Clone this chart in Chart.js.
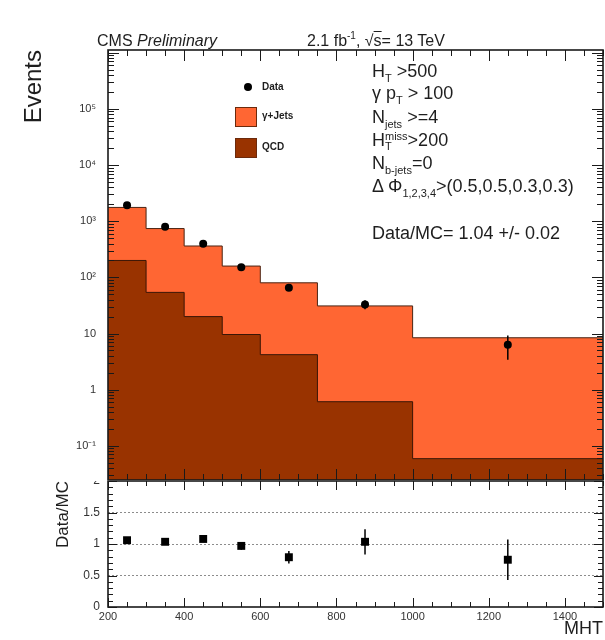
<!DOCTYPE html>
<html>
<head>
<meta charset="utf-8">
<title>MHT distribution, gamma+jets control region</title>
<script src="https://cdn.jsdelivr.net/npm/chart.js@4.4.1/dist/chart.umd.min.js"></script>
<style>
  body { margin: 0; background: #fff; font-family: "Liberation Sans", Arial, sans-serif; color: #1e1e1e; }
  #wrap { position: relative; width: 605px; height: 640px; overflow: hidden; }
  canvas { position: absolute; left: 0; }
  #mainChart { top: 0; }
  #ratioChart { top: 481px; }
  .t { position: absolute; white-space: nowrap; line-height: 1; }
  .lab { font-size: 18px; }
  .s { font-size: 11px; position: relative; top: 5px; }
  .u { font-size: 10px; position: relative; top: -7px; }
  .ss { display: inline-block; font-size: 11px; line-height: 10px; vertical-align: -4px; }
  .ss span { display: block; }
  .leg { font-size: 10px; font-weight: bold; }
  .box { position: absolute; width: 22px; height: 20px; box-sizing: border-box; border: 1px solid #6b2a0c; }
  .dot { position: absolute; width: 8px; height: 8px; border-radius: 50%; background: #000; }
</style>
</head>
<body>
<div id="wrap">
  <canvas id="mainChart" width="605" height="481"></canvas>
  <canvas id="ratioChart" width="605" height="159"></canvas>

  <div class="t" style="left:97px;top:33px;font-size:16px">CMS <i>Preliminary</i></div>
  <div class="t" style="left:307px;top:33px;font-size:16px">2.1 fb<span class="u">-1</span>, √<span style="text-decoration:overline">s</span>= 13 TeV</div>

  <div class="dot" style="left:244px;top:83px"></div>
  <div class="t leg" style="left:262px;top:82px">Data</div>
  <div class="box" style="left:235px;top:107px;background:#ff6633"></div>
  <div class="t leg" style="left:262px;top:111px">γ+Jets</div>
  <div class="box" style="left:235px;top:138px;background:#993300"></div>
  <div class="t leg" style="left:262px;top:142px">QCD</div>

  <div class="t lab" style="left:372px;top:62px">H<span class="s">T</span> &gt;500</div>
  <div class="t lab" style="left:372px;top:84px">γ p<span class="s">T</span> &gt; 100</div>
  <div class="t lab" style="left:372px;top:108px">N<span class="s">jets</span> &gt;=4</div>
  <div class="t lab" style="left:372px;top:131px">H<span class="ss"><span>miss</span><span>T</span></span>&gt;200</div>
  <div class="t lab" style="left:372px;top:154px">N<span class="s">b-jets</span>=0</div>
  <div class="t lab" style="left:372px;top:177px">Δ Φ<span class="s">1,2,3,4</span>&gt;(0.5,0.5,0.3,0.3)</div>
  <div class="t lab" style="left:372px;top:224px">Data/MC= 1.04 +/- 0.02</div>
</div>

<script>
// MHT binning
const binEdges = [200, 300, 400, 500, 600, 750, 1000, 1500];
const binCenters = [250, 350, 450, 550, 675, 875, 1250];

// top of the stack (gamma+jets drawn on top of QCD)
const stackTop = [1760, 740, 362, 159, 80, 31, 8.4];
const qcdEvents = [200, 54, 20, 9.6, 4.2, 0.61, 0.059];
const dataEvents = [1930, 795, 398, 152, 65, 33, 6.3];
const dataErrors = [44, 28, 20, 12, 8, 6, 2.9];

const ratioValues = [1.06, 1.035, 1.08, 0.97, 0.79, 1.035, 0.75];
const ratioErrors = [0.03, 0.04, 0.05, 0.06, 0.1, 0.2, 0.32];

const eventTicks = [0.1, 1, 10, 100, 1000, 10000, 100000];
const eventTickLabels = ["10⁻¹", "1", "10", "10²", "10³", "10⁴", "10⁵"];
const ratioTicks = [0, 0.5, 1, 1.5, 2];
const mhtTicks = [200, 400, 600, 800, 1000, 1200, 1400];

const gjColor = "#ff6633";
const qcdColor = "#993300";

Chart.defaults.font.family = '"Liberation Sans", Arial, sans-serif';
Chart.defaults.color = "#333";

function stepPoints(values) {
  const pts = values.map((v, i) => ({ x: binEdges[i], y: v }));
  pts.push({ x: binEdges[binEdges.length - 1], y: values[values.length - 1] });
  return pts;
}

function range(from, to, step) {
  const out = [];
  for (let v = from; v <= to + 1e-9; v += step) out.push(+v.toFixed(4));
  return out;
}

function logMinor(lo, hi) {
  const out = [];
  for (let e = -2; e <= 6; e++) {
    for (let m = 2; m <= 9; m++) {
      const v = m * Math.pow(10, e);
      if (v > lo && v < hi) out.push(v);
    }
  }
  return out;
}

// keep the plot frame where we put it, labels may stick out
function noPadding(s) {
  s.paddingTop = s.paddingBottom = s.paddingLeft = s.paddingRight = 0;
  s.getPadding = () => ({ top: 0, bottom: 0, left: 0, right: 0 });
}

// ROOT-like frame with ticks pointing inwards on all four sides
const rootAxes = {
  id: "rootAxes",
  afterDatasetsDraw(chart, args, opts) {
    const { ctx, chartArea: a } = chart;
    const sx = chart.scales.x, sy = chart.scales.y;
    ctx.save();
    ctx.strokeStyle = "#1a1a1a";
    ctx.lineWidth = 1;
    ctx.beginPath();
    const tickX = (v, len) => {
      const px = Math.round(sx.getPixelForValue(v)) + 0.5;
      ctx.moveTo(px, a.bottom); ctx.lineTo(px, a.bottom - len);
      ctx.moveTo(px, a.top); ctx.lineTo(px, a.top + len);
    };
    const tickY = (v, len) => {
      const py = Math.round(sy.getPixelForValue(v)) + 0.5;
      ctx.moveTo(a.left, py); ctx.lineTo(a.left + len, py);
      ctx.moveTo(a.right, py); ctx.lineTo(a.right - len, py);
    };
    opts.xMinor.forEach(v => tickX(v, opts.minorLen));
    opts.xMajor.forEach(v => tickX(v, opts.majorLen));
    opts.yMinor.forEach(v => tickY(v, opts.minorLen));
    opts.yMajor.forEach(v => tickY(v, opts.majorLen));
    ctx.stroke();
    ctx.lineWidth = 1.6;
    ctx.strokeRect(a.left, a.top, a.right - a.left, a.bottom - a.top);
    ctx.restore();
  }
};

const errorBars = {
  id: "errorBars",
  afterDatasetsDraw(chart, args, opts) {
    const meta = chart.getDatasetMeta(opts.dataset);
    const values = chart.data.datasets[opts.dataset].data;
    const sy = chart.scales.y;
    const ctx = chart.ctx;
    ctx.save();
    ctx.strokeStyle = "#000";
    ctx.lineWidth = 1.5;
    ctx.beginPath();
    meta.data.forEach((pt, i) => {
      const v = values[i].y;
      const lo = Math.max(v - opts.errors[i], sy.min);
      ctx.moveTo(pt.x, sy.getPixelForValue(v + opts.errors[i]));
      ctx.lineTo(pt.x, sy.getPixelForValue(lo));
    });
    ctx.stroke();
    ctx.restore();
  }
};

const yMin = 0.0246, yMax = 1.12e6;

new Chart(document.getElementById("mainChart"), {
  type: "line",
  data: {
    datasets: [
      {
        label: "Data",
        data: binCenters.map((x, i) => ({ x, y: dataEvents[i] })),
        showLine: false,
        pointRadius: 4,
        pointBackgroundColor: "#000",
        pointBorderWidth: 0,
        order: 0
      },
      {
        label: "QCD",
        data: stepPoints(qcdEvents),
        stepped: "before",
        fill: "start",
        backgroundColor: qcdColor,
        borderColor: "#3a1606",
        borderWidth: 1,
        pointRadius: 0,
        order: 1
      },
      {
        label: "γ+Jets",
        data: stepPoints(stackTop),
        stepped: "before",
        fill: "start",
        backgroundColor: gjColor,
        borderColor: "#4a2413",
        borderWidth: 1,
        pointRadius: 0,
        order: 2
      }
    ]
  },
  options: {
    responsive: false,
    animation: false,
    devicePixelRatio: 1,
    layout: { autoPadding: false, padding: { top: 50, right: 2, bottom: 1, left: 0 } },
    plugins: {
      legend: { display: false },
      tooltip: { enabled: false },
      rootAxes: {
        xMajor: range(200, 1400, 200),
        xMinor: range(200, 1500, 50),
        yMajor: eventTicks.concat([1000000]).filter(v => v > yMin && v < yMax),
        yMinor: logMinor(yMin, yMax),
        majorLen: 11,
        minorLen: 6
      },
      errorBars: { dataset: 0, errors: dataErrors }
    },
    scales: {
      x: {
        type: "linear",
        min: 200,
        max: 1500,
        grid: { display: false, drawTicks: false },
        border: { display: false },
        ticks: { display: false },
        afterFit: s => { s.height = 0; noPadding(s); }
      },
      y: {
        type: "logarithmic",
        min: yMin,
        max: yMax,
        grid: { display: false, drawTicks: false },
        border: { display: false },
        afterBuildTicks: s => { s.ticks = eventTicks.map(v => ({ value: v })); },
        ticks: {
          autoSkip: false,
          padding: 12,
          color: "#333",
          font: { size: 11 },
          callback: (v, i) => eventTickLabels[i]
        },
        title: {
          display: true,
          text: "Events",
          align: "end",
          color: "#1e1e1e",
          font: { size: 24 },
          padding: { top: 20, bottom: 0 }
        },
        afterFit: s => { s.width = 108; noPadding(s); }
      }
    }
  },
  plugins: [rootAxes, errorBars]
});

new Chart(document.getElementById("ratioChart"), {
  type: "line",
  data: {
    datasets: [
      {
        label: "Data/MC",
        data: binCenters.map((x, i) => ({ x, y: ratioValues[i] })),
        showLine: false,
        pointStyle: "rect",
        pointRadius: 5.6,
        pointBackgroundColor: "#000",
        pointBorderWidth: 0
      }
    ]
  },
  options: {
    responsive: false,
    animation: false,
    devicePixelRatio: 1,
    layout: { autoPadding: false, padding: { top: 0, right: 2, bottom: 0, left: 0 } },
    plugins: {
      legend: { display: false },
      tooltip: { enabled: false },
      rootAxes: {
        xMajor: range(200, 1400, 200),
        xMinor: range(200, 1500, 50),
        yMajor: ratioTicks,
        yMinor: range(0, 2, 0.1),
        majorLen: 9,
        minorLen: 5
      },
      errorBars: { dataset: 0, errors: ratioErrors }
    },
    scales: {
      x: {
        type: "linear",
        min: 200,
        max: 1500,
        grid: { display: false, drawTicks: false },
        border: { display: false },
        afterBuildTicks: s => { s.ticks = mhtTicks.map(v => ({ value: v })); },
        ticks: {
          autoSkip: false,
          maxRotation: 0,
          padding: 3,
          color: "#333",
          font: { size: 11 },
          callback: v => String(v)
        },
        title: {
          display: true,
          text: "MHT",
          align: "end",
          color: "#1e1e1e",
          font: { size: 18 },
          padding: { top: 0, bottom: 0 }
        },
        afterFit: s => { s.height = 33; noPadding(s); }
      },
      y: {
        type: "linear",
        min: 0,
        max: 2,
        afterBuildTicks: s => { s.ticks = ratioTicks.map(v => ({ value: v })); },
        grid: {
          drawTicks: false,
          lineWidth: 1,
          color: c => (c.tick && c.tick.value > 0 && c.tick.value < 2) ? "#8c8c8c" : "rgba(0,0,0,0)"
        },
        border: { display: false, dash: [2, 2] },
        ticks: { autoSkip: false, padding: 8, color: "#333", font: { size: 12 }, callback: v => String(v) },
        title: {
          display: true,
          text: "Data/MC",
          align: "end",
          color: "#1e1e1e",
          font: { size: 17 },
          padding: { top: 53, bottom: 0 }
        },
        afterFit: s => { s.width = 108; noPadding(s); }
      }
    }
  },
  plugins: [rootAxes, errorBars]
});
</script>
</body>
</html>
